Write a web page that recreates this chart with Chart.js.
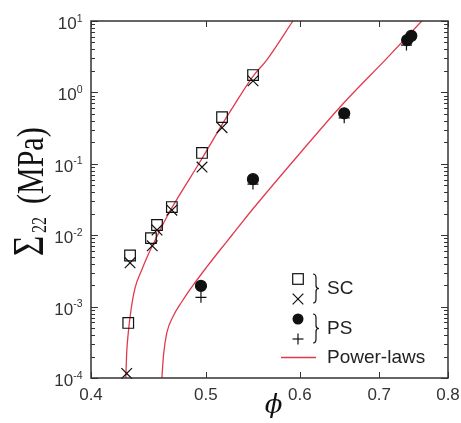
<!DOCTYPE html>
<html>
<head>
<meta charset="utf-8">
<script src="https://cdn.jsdelivr.net/npm/chart.js@4.4.1/dist/chart.umd.min.js"></script>
<style>
  body { margin: 0; background: #fff; }
  #wrap { width: 461px; height: 423px; }
</style>
</head>
<body>
<div id="wrap"><canvas id="graphCanvas" width="461" height="423"></canvas></div>
<script>
// tick labels
var xTicks = [0.4, 0.5, 0.6, 0.7, 0.8];
var yExponents = [-4, -3, -2, -1, 0, 1];

// SC data (squares and crosses)
var scSquareX = [0.430, 0.4315, 0.4494, 0.4547, 0.468, 0.4962, 0.5159, 0.5479];
var scSquareY = [5.9e-4, 5.2e-3, 9.1e-3, 0.0139, 0.0248, 0.142, 0.45, 1.75];
var scCrossX = [0.4287, 0.4315, 0.4505, 0.4547, 0.468, 0.4962, 0.5159, 0.5479];
var scCrossY = [1.16e-4, 4.1e-3, 7.1e-3, 0.0118, 0.0224, 0.090, 0.32, 1.45];

// PS data (circles and pluses)
var psCircleX = [0.4952, 0.5478, 0.654, 0.739, 0.745];
var psCircleY = [1.95e-3, 0.061, 0.51, 5.4, 6.2];
var psPlusX = [0.4952, 0.5478, 0.654, 0.738, 0.742];
var psPlusY = [1.35e-3, 0.052, 0.44, 4.6, 5.6];

// power-law curves
var scFitX = [0.428, 0.4287, 0.4300, 0.4323, 0.4357, 0.4414, 0.4457, 0.4544, 0.4634, 0.4681, 0.4959, 0.5156, 0.5240, 0.5482, 0.5626, 0.592];
var scFitY = [1e-4, 2.24e-4, 4.27e-4, 8.96e-4, 1.82e-3, 3.26e-3, 4.80e-3, 9.44e-3, 0.018, 0.0244, 0.1167, 0.349, 0.537, 1.70, 2.84, 10];
var psFitX = [0.459, 0.4605, 0.4634, 0.4693, 0.4770, 0.4879, 0.5008, 0.5139, 0.5240, 0.5342, 0.5429, 0.5964, 0.6528, 0.7103, 0.7603];
var psFitY = [1e-4, 2.1e-4, 4.27e-4, 7.4e-4, 1.16e-3, 2.01e-3, 3.59e-3, 6.21e-3, 9.29e-3, 0.0139, 0.0195, 0.1245, 0.70, 3.0, 10];

var ink = "#111";
var red = "#e23a4c";
var sans = "'Liberation Sans', Arial, sans-serif";
var serif = "'Liberation Serif', 'Times New Roman', serif";

function pts(xs, ys) {
  return xs.map(function(x, i) { return {x: x, y: ys[i]}; });
}

function markerSet(xs, ys, style, r, filled) {
  return {
    data: pts(xs, ys),
    showLine: false,
    pointStyle: style,
    pointRadius: r,
    pointHoverRadius: r,
    pointBorderWidth: 1.2,
    pointBorderColor: ink,
    pointBackgroundColor: filled ? ink : "rgba(0,0,0,0)",
    clip: false
  };
}

function fitSet(xs, ys) {
  return {
    data: pts(xs, ys),
    showLine: true,
    borderColor: red,
    borderWidth: 1.3,
    pointRadius: 0,
    cubicInterpolationMode: "monotone",
    fill: false
  };
}

function line(ctx, x0, y0, x1, y1) {
  ctx.beginPath();
  ctx.moveTo(x0, y0);
  ctx.lineTo(x1, y1);
  ctx.stroke();
}

function brace(ctx, x, y0, y1) {
  var ym = (y0 + y1) / 2;
  ctx.beginPath();
  ctx.moveTo(x, y0);
  ctx.quadraticCurveTo(x + 3, y0, x + 3, y0 + 4);
  ctx.lineTo(x + 3, ym - 3);
  ctx.quadraticCurveTo(x + 3, ym, x + 6, ym);
  ctx.quadraticCurveTo(x + 3, ym, x + 3, ym + 3);
  ctx.lineTo(x + 3, y1 - 4);
  ctx.quadraticCurveTo(x + 3, y1, x, y1);
  ctx.stroke();
}

var axesPlugin = {
  id: "axesPlugin",
  afterDraw: function(chart) {
    var ctx = chart.ctx, a = chart.chartArea;
    var xs = chart.scales.x, ys = chart.scales.y;
    ctx.save();

    // frame
    ctx.strokeStyle = "#333";
    ctx.lineWidth = 1.5;
    ctx.strokeRect(a.left, a.top, a.right - a.left, a.bottom - a.top);

    // y ticks (major + minor, both sides)
    ctx.lineWidth = 1;
    yExponents.forEach(function(e, i) {
      for (var k = 1; k < 10; k++) {
        if (k > 1 && i === yExponents.length - 1) break;
        var py = Math.round(ys.getPixelForValue(k * Math.pow(10, e))) + 0.5;
        var len = k === 1 ? 7 : 4;
        line(ctx, a.left, py, a.left + len, py);
        line(ctx, a.right, py, a.right - len, py);
      }
    });
    // x ticks
    xTicks.forEach(function(v) {
      var px = Math.round(xs.getPixelForValue(v)) + 0.5;
      line(ctx, px, a.bottom, px, a.bottom - 6);
      line(ctx, px, a.top, px, a.top + 6);
    });

    // y tick labels 10^n
    ctx.fillStyle = "#333";
    ctx.textBaseline = "alphabetic";
    yExponents.forEach(function(e) {
      var py = ys.getPixelForValue(Math.pow(10, e));
      ctx.font = "10.5px " + sans;
      var es = String(e);
      var ew = ctx.measureText(es).width;
      ctx.font = "17px " + sans;
      var bw = ctx.measureText("10").width;
      var right = 82.5;
      ctx.textAlign = "left";
      ctx.fillText("10", right - ew - bw, py + 8);
      ctx.font = "10.5px " + sans;
      ctx.fillText(es, right - ew, py + 0.5);
    });
    // x tick labels
    ctx.font = "17px " + sans;
    ctx.textAlign = "center";
    ctx.textBaseline = "middle";
    xTicks.forEach(function(v) {
      ctx.fillText(String(v), xs.getPixelForValue(v), 395);
    });

    // x title
    ctx.fillStyle = ink;
    ctx.font = "italic 26px 'DejaVu Serif', " + serif;
    ctx.fillText("\u03d5", (a.left + a.right) / 2 + 4, 406);

    // y title, rotated
    ctx.save();
    ctx.translate(43, 0);
    ctx.rotate(-Math.PI / 2);
    ctx.scale(1, 1.25);
    ctx.textAlign = "left";
    ctx.textBaseline = "alphabetic";
    ctx.font = "35px " + serif;
    ctx.fillText("\u03a3", -256, 0);
    ctx.font = "16px " + serif;
    ctx.fillText("22", -233, 2);
    ctx.font = "30px " + serif;
    ctx.fillText("(MPa)", -204, 0);
    ctx.restore();

    // legend
    ctx.strokeStyle = ink;
    ctx.fillStyle = ink;
    ctx.lineWidth = 1.2;
    var lx = 298;
    ctx.strokeRect(lx - 5.3, 279 - 5.3, 10.6, 10.6);
    line(ctx, lx - 5.3, 299 - 5.3, lx + 5.3, 299 + 5.3);
    line(ctx, lx - 5.3, 299 + 5.3, lx + 5.3, 299 - 5.3);
    ctx.beginPath();
    ctx.arc(lx, 319, 5.5, 0, Math.PI * 2);
    ctx.fill();
    line(ctx, lx - 5.5, 339, lx + 5.5, 339);
    line(ctx, lx, 339 - 5.5, lx, 339 + 5.5);
    brace(ctx, 313, 274, 303);
    brace(ctx, 313, 314, 343);
    ctx.strokeStyle = red;
    ctx.lineWidth = 1.5;
    line(ctx, 281, 357.5, 316, 357.5);

    ctx.fillStyle = "#222";
    ctx.font = "19px " + sans;
    ctx.textAlign = "left";
    ctx.textBaseline = "middle";
    ctx.fillText("SC", 327, 289);
    ctx.fillText("PS", 327, 329);
    ctx.fillText("Power-laws", 327, 358);

    ctx.restore();
  }
};

var ctx = document.getElementById("graphCanvas");

var chart = new Chart(ctx, {
  type: "scatter",
  data: {
    datasets: [
      markerSet(scSquareX, scSquareY, "rect", 7.5, false),
      markerSet(scCrossX, scCrossY, "crossRot", 7.5, false),
      markerSet(psCircleX, psCircleY, "circle", 5.5, true),
      markerSet(psPlusX, psPlusY, "cross", 5.5, false),
      fitSet(scFitX, scFitY),
      fitSet(psFitX, psFitY)
    ]
  },
  options: {
    responsive: false,
    animation: false,
    layout: { padding: { left: 91, right: 13, top: 21, bottom: 45 } },
    plugins: {
      legend: { display: false },
      tooltip: { enabled: false }
    },
    scales: {
      x: { type: "logarithmic", min: 0.4, max: 0.8, bounds: "data", display: false },
      y: { type: "logarithmic", min: 1e-4, max: 10, bounds: "data", display: false }
    }
  },
  plugins: [axesPlugin]
});
</script>
</body>
</html>
